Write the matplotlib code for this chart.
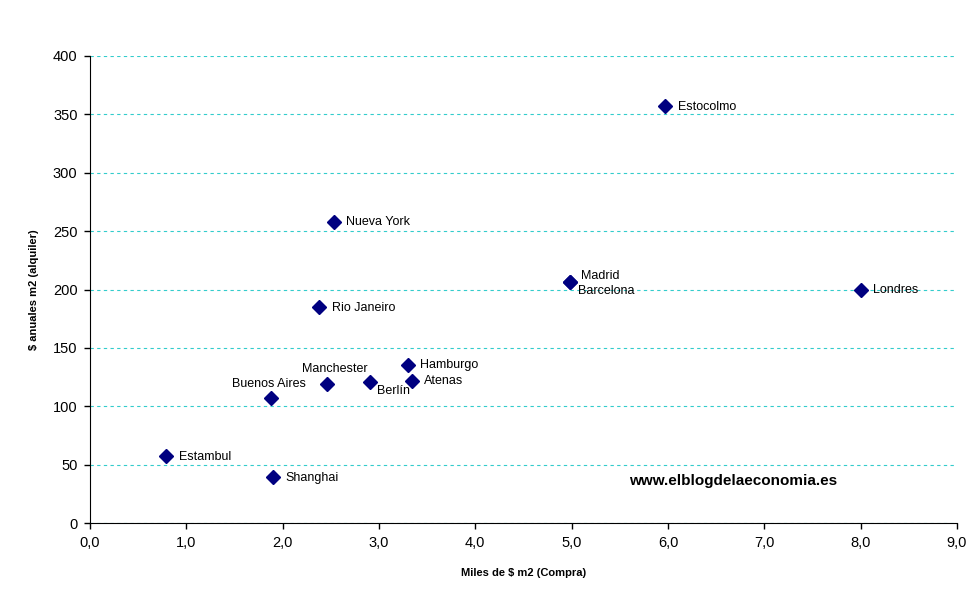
import numpy as np
from matplotlib import pyplot as plt, ticker as tk

plt.rcParams['font.family'] = ['Liberation Sans', 'DejaVu Sans']

# data
ciudades = ['Estocolmo', 'Nueva York', 'Madrid', 'Barcelona', 'Londres', 'Rio Janeiro',
            'Hamburgo', 'Atenas', 'Manchester', 'Berlín', 'Buenos Aires', 'Estambul', 'Shanghai']
compra = [5.97, 2.53, 4.98, 4.98, 8.0, 2.38, 3.30, 3.34, 2.46, 2.91, 1.88, 0.79, 1.90]
alquiler = [357, 258, 206, 206, 200, 185, 135, 122, 119, 121, 107, 57, 39]

# label offsets (points) and alignment
offsets = {
	'Madrid': (8, 5, 'left'), 'Barcelona': (6, -6, 'left'),
	'Manchester': (-18, 11, 'left'), 'Buenos Aires': (-28, 10, 'left'),
	'Berlín': (5, -7, 'left'), 'Atenas': (9, 0, 'left'), 'Hamburgo': (9, 0, 'left'),
}

fig = plt.figure(figsize=(9.77, 6.0), dpi=100)
ax = fig.add_axes([0.0921, 0.1283, 0.8874, 0.7784])

ax.plot(compra, alquiler, 'D', color='#000080', markersize=7.5, linestyle='none', zorder=3)

for name, x, y in zip(ciudades, compra, alquiler):
	dx, dy, ha = offsets.get(name, (9, -0.5, 'left'))
	ax.annotate(name, (x, y), xytext=(dx, dy), textcoords='offset points',
		ha=ha, va='center', fontsize=9)

ax.set_xlim(0, 9)
ax.set_ylim(0, 400)
ax.xaxis.set_major_locator(tk.MultipleLocator(1))
ax.yaxis.set_major_locator(tk.MultipleLocator(50))
ax.xaxis.set_major_formatter(tk.FuncFormatter(lambda v, p: f'{v:.1f}'.replace('.', ',')))
ax.tick_params(direction='out', length=4, width=1, labelsize=10.5, pad=5)
ax.yaxis.grid(True, color='#33CCCC', linestyle=(0, (3, 3)), linewidth=0.8)
ax.set_axisbelow(True)
for s in ('top', 'right'):
	ax.spines[s].set_visible(False)

ax.set_xlabel('Miles de $ m2 (Compra)', fontsize=8, fontweight='bold', labelpad=13)
ax.set_ylabel('$ anuales m2 (alquiler)', fontsize=8, fontweight='bold', labelpad=10)
ax.text(0.622, 0.082, 'www.elblogdelaeconomia.es', transform=ax.transAxes,
	fontsize=11, fontweight='bold')

plt.savefig('out.png', dpi=100)
